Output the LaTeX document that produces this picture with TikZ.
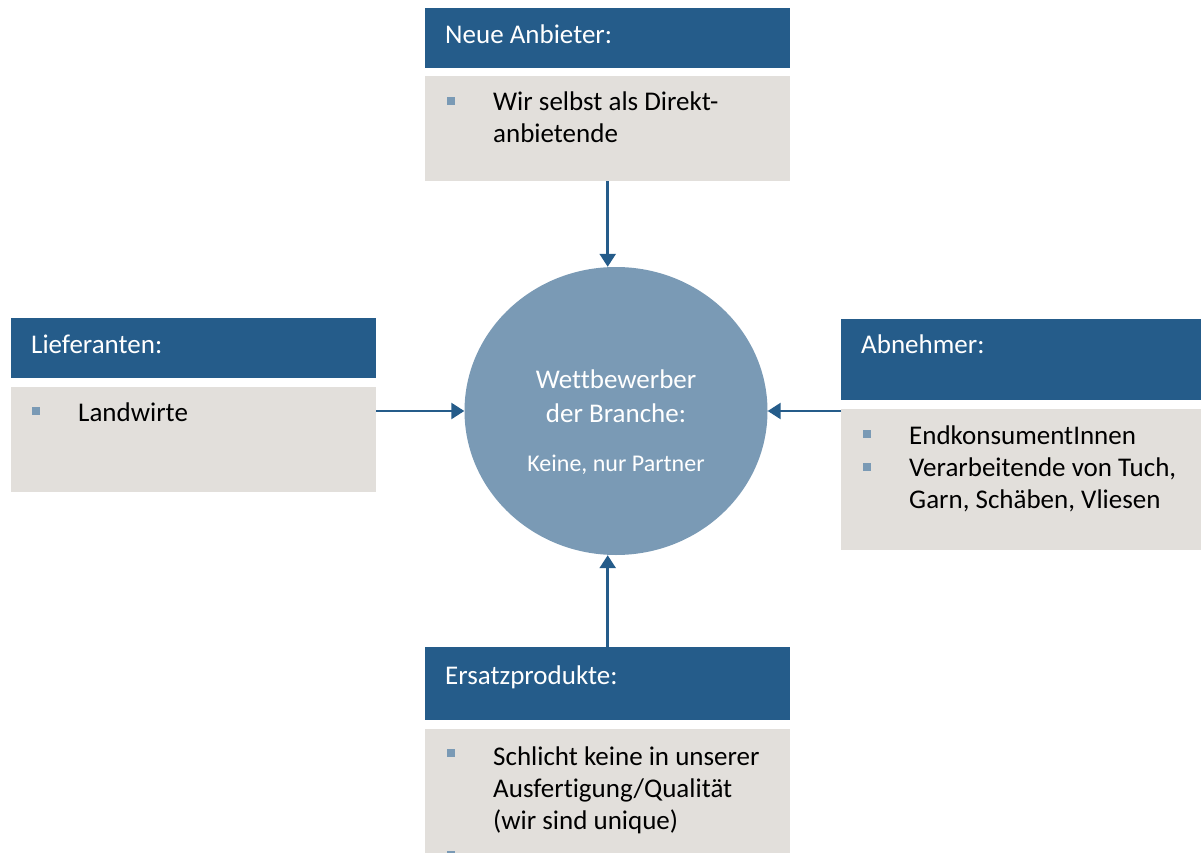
\documentclass[tikz,border=0pt]{standalone}
\usepackage{fontspec}
\setmainfont{Carlito}[Ligatures=NoCommon]
\usetikzlibrary{positioning,arrows.meta,shapes.geometric}
\definecolor{headblue}{RGB}{37,92,138}
\definecolor{bodygrey}{RGB}{226,223,219}
\definecolor{ringblue}{RGB}{122,154,181}

\begin{document}
\begin{tikzpicture}[
      x=1pt, y=-1pt,
      head/.style={fill=headblue, inner sep=0, anchor=north west, minimum width=365pt},
      body/.style={fill=bodygrey, inner sep=0, anchor=north west, minimum width=365pt},
      headtxt/.style={text=white, inner sep=0, anchor=base west, font=\fontsize{27}{32}\selectfont},
      bodytxt/.style={text=black, inner sep=0, anchor=base west, align=left, font=\fontsize{27}{32}\selectfont},
      bullet/.style={fill=ringblue, inner sep=0, minimum size=8pt},
      link/.style={draw=headblue, line width=2.5pt, -{Triangle[length=13pt,width=16pt]}}
      ]
      \useasboundingbox (0,0) rectangle (1201,853);
      \clip (0,0) rectangle (1201,853);

      % middle
      \node[ellipse, fill=ringblue, minimum width=303pt, minimum height=288pt] (ring) at (616,411) {};
      \node[text=white, inner sep=0, anchor=base, align=center, font=\fontsize{27}{34}\selectfont] (tRing) at (616,422) {Wettbewerber\\der Branche:};
      \node[text=white, inner sep=0, anchor=base, font=\fontsize{24}{28}\selectfont] (tKeine) at (616,471) {Keine, nur Partner};

      % top
      \node[head, minimum height=60pt] (hNeu) at (425,8) {};
      \node[body, minimum height=105pt] (bNeu) at (425,76) {};
      \node[headtxt] (tNeu) at (445,44) {Neue Anbieter:};
      \node[bullet] (pNeu) at (451,101) {};
      \node[bodytxt] (sNeu) at (493,143) {Wir selbst als Direkt-\\anbietende};

      % left
      \node[head, minimum height=60pt] (hLief) at (11,318) {};
      \node[body, minimum height=105pt] (bLief) at (11,387) {};
      \node[headtxt] (tLief) at (31,353) {Lieferanten:};
      \node[bullet] (pLief) at (36,411) {};
      \node[bodytxt] (sLief) at (78,421) {Landwirte};

      % right
      \node[head, minimum width=360pt, minimum height=81pt] (hAbn) at (841,319) {};
      \node[body, minimum width=360pt, minimum height=141pt] (bAbn) at (841,409) {};
      \node[headtxt] (tAbn) at (861,353) {Abnehmer:};
      \node[bullet] (pAbn1) at (867,434) {};
      \node[bullet] (pAbn2) at (867,467) {};
      \node[bodytxt] (sAbn) at (909,508) {EndkonsumentInnen\\Verarbeitende von Tuch,\\Garn, Schäben, Vliesen};

      % bottom
      \node[head, minimum height=73pt] (hErs) at (425,647) {};
      \node[body, minimum height=140pt] (bErs) at (425,729) {};
      \node[headtxt] (tErs) at (445,684) {Ersatzprodukte:};
      \node[bullet] (pErs1) at (451,753) {};
      \node[bullet] (pErs2) at (451,855) {};
      \node[bodytxt] (sErs) at (493,829) {Schlicht keine in unserer\\Ausfertigung/Qualität\\(wir sind unique)};

  % Connect the nodes
  \draw[link] (bNeu.south) -- (bNeu.south |- ring.north);
  \draw[link] (hErs.north) -- (hErs.north |- ring.south);
  \draw[link] (ring.west -| bLief.east) -- (ring.west);
  \draw[link] (ring.east -| bAbn.west) -- (ring.east);

\end{tikzpicture}
\end{document}
